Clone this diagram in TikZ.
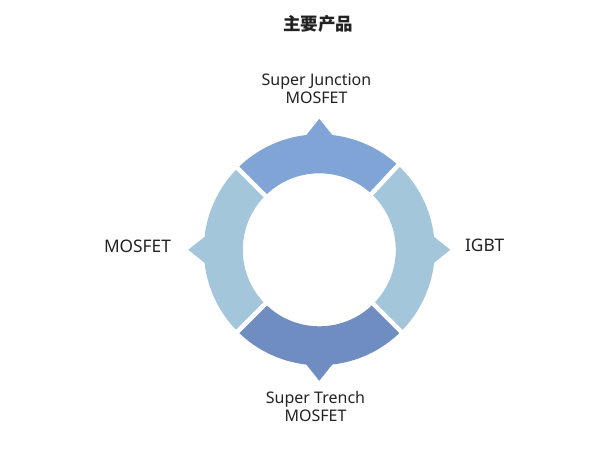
\documentclass[tikz,border=0pt]{standalone}
\usepackage{fontspec}
\setmainfont{Noto Sans}
\newfontfamily\cjk{Noto Sans CJK SC}
\definecolor{segTop}{RGB}{128,164,214}
\definecolor{segSide}{RGB}{163,198,219}
\definecolor{segBottom}{RGB}{112,141,194}
\definecolor{labelgray}{RGB}{34,34,34}

\begin{document}
\begin{tikzpicture}[x=1pt,y=1pt]
			\useasboundingbox (0,0) rectangle (597,448);
			\tikzstyle{every node}=[text=labelgray,inner sep=0pt]
			\tikzstyle{seglabel}=[align=center,font=\fontsize{16}{17.8}\selectfont]
			\tikzstyle{sidelabel}=[font=\fontsize{17.3}{19}\selectfont]
			\tikzstyle{gap}=[white,line width=4.5pt]
			
			%% Title
			\draw (318,424) node [font=\cjk\bfseries\fontsize{17.5}{20}\selectfont] (title) {主要产品};
			
			%% Ring
			\begin{scope}[shift={(319.3,198.2)}]
			\fill[segTop] (47:76.5) -- (47:115.5) arc[start angle=47,end angle=83.55,radius=115.5]
				-- (90:131) -- (96.45:115.5) arc[start angle=96.45,end angle=135,radius=115.5]
				-- (135:76.5) arc[start angle=135,end angle=47,radius=76.5] -- cycle;
			\fill[segSide] (135:76.5) -- (135:115.5) arc[start angle=135,end angle=173.55,radius=115.5]
				-- (180:131) -- (186.45:115.5) arc[start angle=186.45,end angle=225,radius=115.5]
				-- (225:76.5) arc[start angle=225,end angle=135,radius=76.5] -- cycle;
			\fill[segBottom] (225:76.5) -- (225:115.5) arc[start angle=225,end angle=263.55,radius=115.5]
				-- (270:131) -- (276.45:115.5) arc[start angle=276.45,end angle=315,radius=115.5]
				-- (315:76.5) arc[start angle=315,end angle=225,radius=76.5] -- cycle;
			\fill[segSide] (-45:76.5) -- (-45:115.5) arc[start angle=-45,end angle=-6.45,radius=115.5]
				-- (0:131) -- (6.45:115.5) arc[start angle=6.45,end angle=47,radius=115.5]
				-- (47:76.5) arc[start angle=47,end angle=-45,radius=76.5] -- cycle;
			
			%% Gaps
			\draw[gap] (47:70) -- (47:120);
			\draw[gap] (135:70) -- (135:120);
			\draw[gap] (225:70) -- (225:120);
			\draw[gap] (315:70) -- (315:120);
			\end{scope}
			
			%% Labels
			\draw (316.5,344.5) node [seglabel,anchor=base] (sj) {Super Junction\\MOSFET};
			\draw (315.5,27) node [seglabel,anchor=base] (st) {Super Trench\\MOSFET};
			\draw (137.5,195.7) node [sidelabel,anchor=base] (mos) {MOSFET};
			\draw (484.7,196.3) node [sidelabel,anchor=base] (igbt) {IGBT};
			
\end{tikzpicture}
\end{document}
